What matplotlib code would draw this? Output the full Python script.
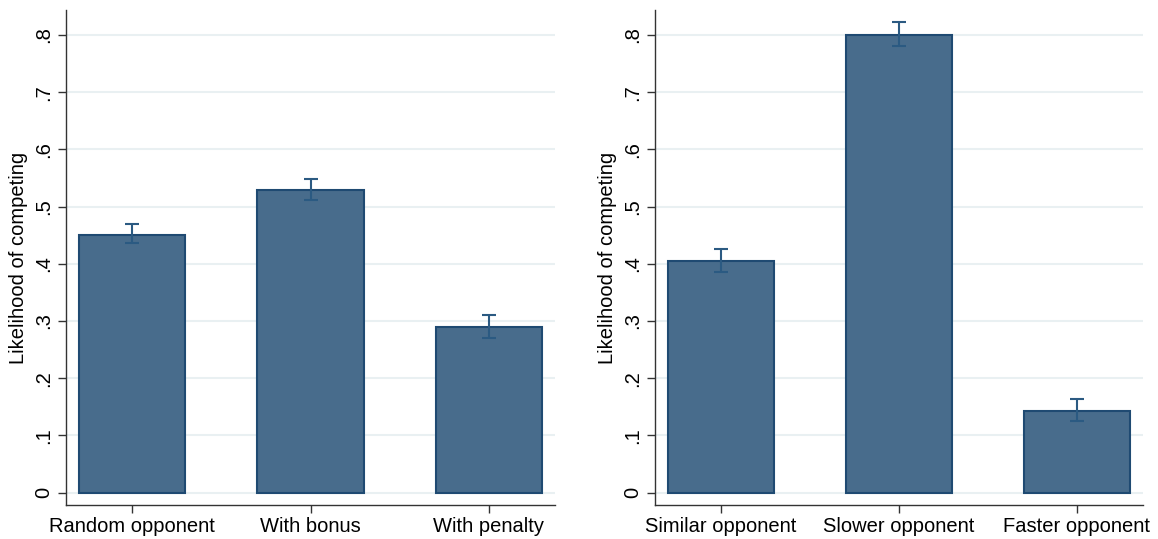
import matplotlib
matplotlib.use("Agg")
import matplotlib.pyplot as plt
from matplotlib.ticker import FixedLocator, FixedFormatter

left_categories = ["Random opponent", "With bonus", "With penalty"]
left_values = [0.451, 0.529, 0.290]
left_err_low = [0.436, 0.511, 0.270]
left_err_high = [0.469, 0.548, 0.311]

right_categories = ["Similar opponent", "Slower opponent", "Faster opponent"]
right_values = [0.405, 0.800, 0.143]
right_err_low = [0.386, 0.780, 0.126]
right_err_high = [0.426, 0.823, 0.164]

y_ticks = [0, 0.1, 0.2, 0.3, 0.4, 0.5, 0.6, 0.7, 0.8]
y_ticklabels = ["0", ".1", ".2", ".3", ".4", ".5", ".6", ".7", ".8"]
y_label = "Likelihood of competing"

plt.rcParams['font.family'] = ['Liberation Sans', 'DejaVu Sans']

fill = "#486c8c"
edge = "#1f4a72"
errc = "#2b5a82"
grid = "#e9f0f2"
spinec = "#333333"
fs = 14.5

fig = plt.figure(figsize=(11.58, 5.39), dpi=100)
W, H = 1158, 539

def make_axes(x0, x1):
    return fig.add_axes([x0 / W, 1 - 505 / H, (x1 - x0) / W, (505 - 10) / H])

ax1 = make_axes(66, 555)
ax2 = make_axes(655, 1143)

def draw(ax, cats, vals, lo, hi):
    x = list(range(len(cats)))
    for v in y_ticks:
        ax.axhline(v, color=grid, lw=1.5, zorder=0)
    ax.bar(x, vals, width=0.596, color=fill, edgecolor=edge, linewidth=1.5, zorder=2)
    yerr = [[v - l for v, l in zip(vals, lo)], [h - v for v, h in zip(vals, hi)]]
    ax.errorbar(x, vals, yerr=yerr, fmt='none', ecolor=errc, elinewidth=1.5,
                capsize=5, capthick=1.5, zorder=3)
    ax.set_xlim(-0.372, 2.372)
    ax.set_ylim(-0.0217, 0.8437)
    ax.set_xticks(x)
    ax.set_xticklabels(cats, fontsize=fs)
    ax.yaxis.set_major_locator(FixedLocator(y_ticks))
    ax.yaxis.set_major_formatter(FixedFormatter(y_ticklabels))
    for lab in ax.get_yticklabels():
        lab.set_rotation(90)
        lab.set_va('center')
        lab.set_fontsize(fs)
    ax.tick_params(axis='both', direction='out', length=6, width=1, color=spinec, pad=3)
    ax.tick_params(axis='x', pad=3)
    for s in ['top', 'right']:
        ax.spines[s].set_visible(False)
    for s in ['left', 'bottom']:
        ax.spines[s].set_color(spinec)
        ax.spines[s].set_linewidth(1)
    ax.set_ylabel(y_label, fontsize=fs, labelpad=5)

draw(ax1, left_categories, left_values, left_err_low, left_err_high)
draw(ax2, right_categories, right_values, right_err_low, right_err_high)

fig.savefig("out.png", dpi=100, facecolor="white")
